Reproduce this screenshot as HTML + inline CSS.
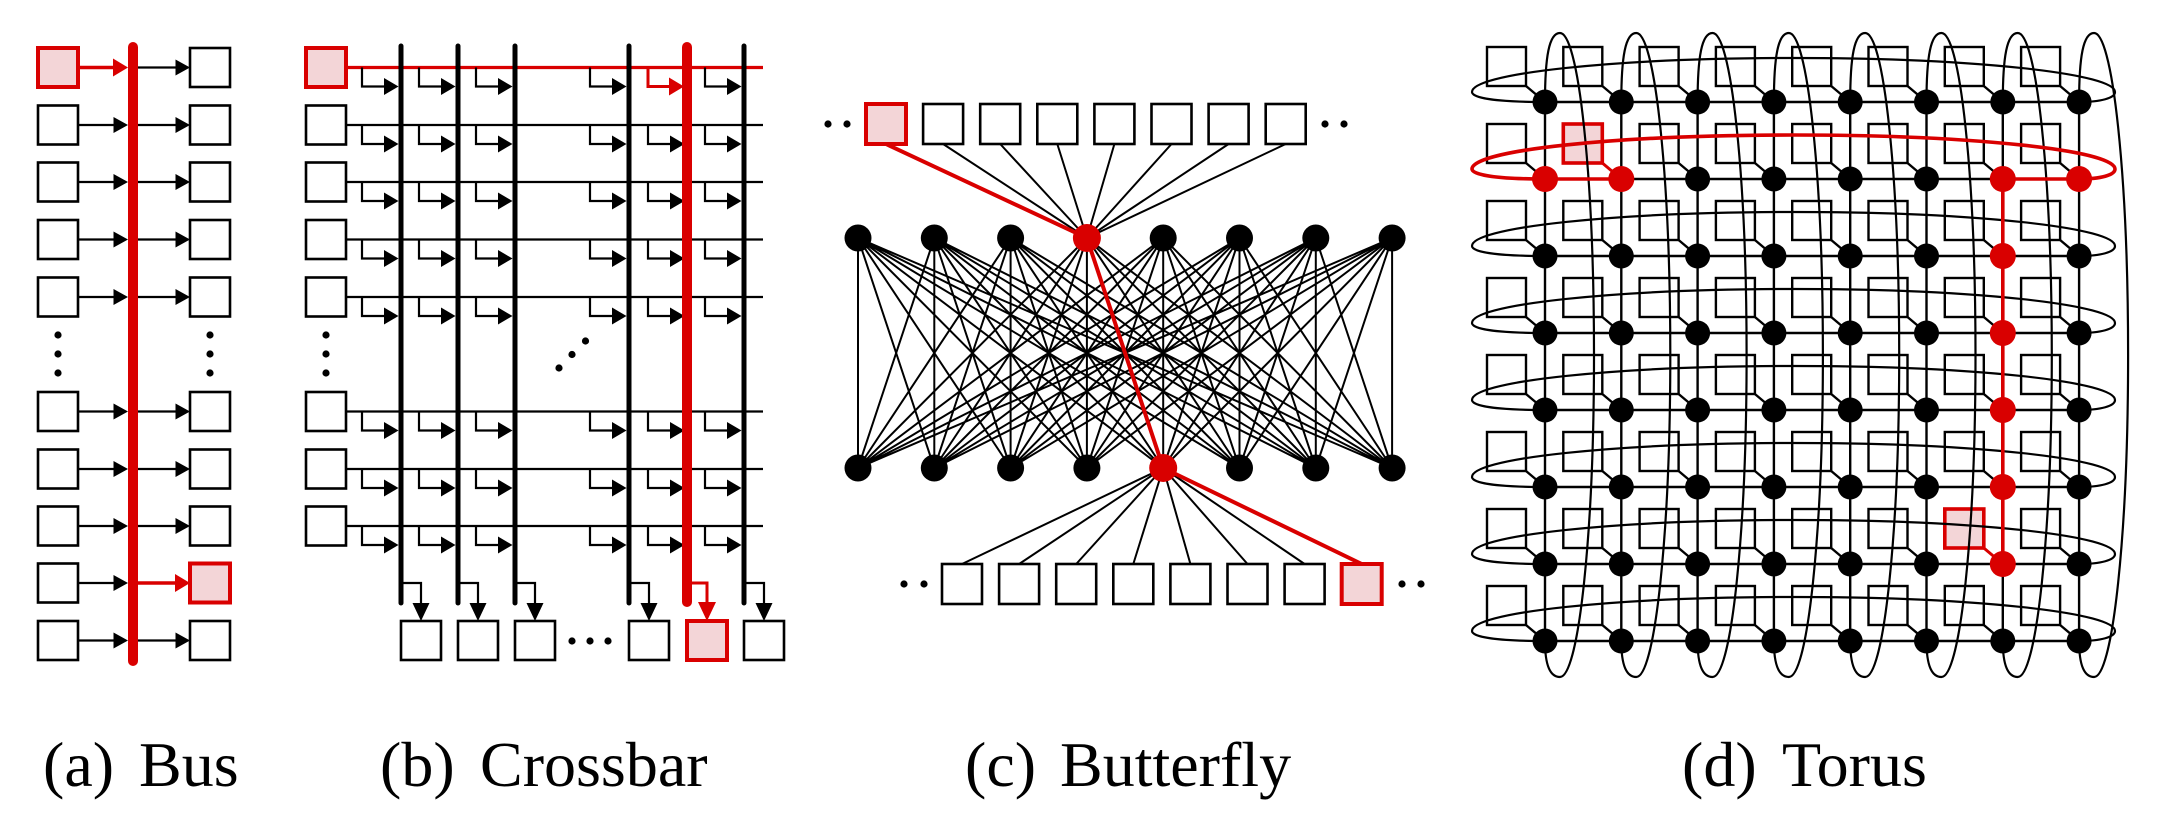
<!DOCTYPE html>
<html>
<head>
<meta charset="utf-8">
<style>
html,body{margin:0;padding:0;background:#fff;}
svg{display:block;}
text{font-family:"Liberation Serif","Times New Roman",serif;font-size:64px;fill:#000;}
</style>
</head>
<body>
<svg width="2162" height="836" viewBox="0 0 2162 836" xmlns="http://www.w3.org/2000/svg">
<defs>
  <!-- Bus row -->
  <g id="br">
    <rect x="38" y="-19.5" width="40" height="39" fill="#fff" stroke="#000" stroke-width="2.6"/>
    <line x1="78" y1="0" x2="115" y2="0" stroke="#000" stroke-width="2.2"/>
    <polygon points="113.5,-8 128,0 113.5,8" fill="#000"/>
    <line x1="138" y1="0" x2="177" y2="0" stroke="#000" stroke-width="2.2"/>
    <polygon points="175.5,-8 190,0 175.5,8" fill="#000"/>
    <rect x="190" y="-19.5" width="40" height="39" fill="#fff" stroke="#000" stroke-width="2.6"/>
  </g>
  <!-- Crossbar L-connectors (black, 5 cols) -->
  <g id="cl5">
    <path d="M362 0V19H385M419 0V19H442M476 0V19H499M590 0V19H613M705 0V19H728" fill="none" stroke="#000" stroke-width="2.2"/>
    <polygon points="384,10.5 398.5,19 384,27.5" fill="#000"/>
    <polygon points="441,10.5 455.5,19 441,27.5" fill="#000"/>
    <polygon points="498,10.5 512.5,19 498,27.5" fill="#000"/>
    <polygon points="612,10.5 626.5,19 612,27.5" fill="#000"/>
    <polygon points="727,10.5 741.5,19 727,27.5" fill="#000"/>
  </g>
  <g id="cl687">
    <path d="M648 0V19H671" fill="none" stroke="#000" stroke-width="2.2"/>
    <polygon points="670,10.5 684.5,19 670,27.5" fill="#000"/>
  </g>
  <g id="cr">
    <rect x="306" y="-19.5" width="40" height="39" fill="#fff" stroke="#000" stroke-width="2.6"/>
    <line x1="346" y1="0" x2="763" y2="0" stroke="#000" stroke-width="2.2"/>
    <use href="#cl5"/>
    <use href="#cl687"/>
  </g>
  <!-- Crossbar bottom connector -->
  <g id="cb">
    <path d="M0 583H20V604" fill="none" stroke="#000" stroke-width="2.2"/>
    <polygon points="11.5,603 20,621 28.5,603" fill="#000"/>
    <rect x="0" y="621" width="40" height="39" fill="#fff" stroke="#000" stroke-width="2.6"/>
  </g>
  <!-- Torus -->
  <g id="tbx">
    <rect x="-58" y="-55" width="39" height="39" fill="#fff" stroke="#000" stroke-width="2.4"/>
    <line x1="-19" y1="-16" x2="0" y2="0" stroke="#000" stroke-width="2.4"/>
  </g>
  <g id="tbrow">
    <use href="#tbx" transform="translate(1545,0)"/>
    <use href="#tbx" transform="translate(1621.3,0)"/>
    <use href="#tbx" transform="translate(1697.6,0)"/>
    <use href="#tbx" transform="translate(1773.9,0)"/>
    <use href="#tbx" transform="translate(1850.2,0)"/>
    <use href="#tbx" transform="translate(1926.5,0)"/>
    <use href="#tbx" transform="translate(2002.8,0)"/>
    <use href="#tbx" transform="translate(2079.1,0)"/>
  </g>
  <g id="tnrow" fill="#000">
    <circle cx="1545" cy="0" r="12.5"/>
    <circle cx="1621.3" cy="0" r="12.5"/>
    <circle cx="1697.6" cy="0" r="12.5"/>
    <circle cx="1773.9" cy="0" r="12.5"/>
    <circle cx="1850.2" cy="0" r="12.5"/>
    <circle cx="1926.5" cy="0" r="12.5"/>
    <circle cx="2002.8" cy="0" r="12.5"/>
    <circle cx="2079.1" cy="0" r="12.5"/>
  </g>
  <path id="rl" fill="none" d="M1545 102C1497 102 1472 98 1472 92A321.5 34 0 0 1 2115 92C2115 98 2101 102 2079.1 102"/>
  <path id="clp" fill="none" d="M1545 102C1545 57 1549 33 1560 33A34 322 0 0 1 1560 677C1549 677 1545 663 1545 641"/>
</defs>

<!-- ================= (a) Bus ================= -->
<use href="#br" transform="translate(0,125)"/>
<use href="#br" transform="translate(0,182)"/>
<use href="#br" transform="translate(0,239.5)"/>
<use href="#br" transform="translate(0,297)"/>
<use href="#br" transform="translate(0,411.5)"/>
<use href="#br" transform="translate(0,469)"/>
<use href="#br" transform="translate(0,526)"/>
<use href="#br" transform="translate(0,640.5)"/>
<!-- row 0 -->
<rect x="38" y="48" width="40" height="39" fill="#f3d5d7" stroke="#d90000" stroke-width="4"/>
<line x1="80" y1="67.5" x2="115" y2="67.5" stroke="#d90000" stroke-width="3.5"/>
<polygon points="113,58.5 128,67.5 113,76.5" fill="#d90000"/>
<line x1="138" y1="67.5" x2="177" y2="67.5" stroke="#000" stroke-width="2.2"/>
<polygon points="175.5,59.5 190,67.5 175.5,75.5" fill="#000"/>
<rect x="190" y="48" width="40" height="39" fill="#fff" stroke="#000" stroke-width="2.6"/>
<!-- row 9 -->
<rect x="38" y="563.5" width="40" height="39" fill="#fff" stroke="#000" stroke-width="2.6"/>
<line x1="78" y1="583" x2="115" y2="583" stroke="#000" stroke-width="2.2"/>
<polygon points="113.5,575 128,583 113.5,591" fill="#000"/>
<line x1="138" y1="583" x2="177" y2="583" stroke="#d90000" stroke-width="3.5"/>
<polygon points="175,574 190,583 175,592" fill="#d90000"/>
<rect x="190" y="563.5" width="40" height="39" fill="#f3d5d7" stroke="#d90000" stroke-width="4"/>
<!-- bus -->
<line x1="133" y1="47" x2="133" y2="661" stroke="#d90000" stroke-width="10" stroke-linecap="round"/>
<!-- dots -->
<g fill="#000">
  <circle cx="58" cy="335" r="3.6"/><circle cx="58" cy="354" r="3.6"/><circle cx="58" cy="373" r="3.6"/>
  <circle cx="210" cy="335" r="3.6"/><circle cx="210" cy="354" r="3.6"/><circle cx="210" cy="373" r="3.6"/>
</g>

<!-- ================= (b) Crossbar ================= -->
<use href="#cr" transform="translate(0,125)"/>
<use href="#cr" transform="translate(0,182)"/>
<use href="#cr" transform="translate(0,239.5)"/>
<use href="#cr" transform="translate(0,297)"/>
<use href="#cr" transform="translate(0,411.5)"/>
<use href="#cr" transform="translate(0,469)"/>
<use href="#cr" transform="translate(0,526)"/>
<!-- row 0 -->
<rect x="306" y="48" width="40" height="39" fill="#f3d5d7" stroke="#d90000" stroke-width="4"/>
<line x1="348" y1="67.5" x2="763" y2="67.5" stroke="#d90000" stroke-width="3.2"/>
<use href="#cl5" transform="translate(0,67.5)"/>
<path d="M648 67.5V86.5H671" fill="none" stroke="#d90000" stroke-width="3"/>
<polygon points="669,77.5 684,86.5 669,95.5" fill="#d90000"/>
<!-- bottom connectors and boxes -->
<use href="#cb" transform="translate(401,0)"/>
<use href="#cb" transform="translate(458,0)"/>
<use href="#cb" transform="translate(515,0)"/>
<use href="#cb" transform="translate(629,0)"/>
<use href="#cb" transform="translate(744,0)"/>
<path d="M687 583H707V604" fill="none" stroke="#d90000" stroke-width="3"/>
<polygon points="698,602 707,621 716,602" fill="#d90000"/>
<rect x="687" y="621" width="40" height="39" fill="#f3d5d7" stroke="#d90000" stroke-width="4"/>
<!-- columns -->
<g stroke="#000" stroke-width="5" stroke-linecap="round">
  <line x1="401" y1="46" x2="401" y2="603"/>
  <line x1="458" y1="46" x2="458" y2="603"/>
  <line x1="515" y1="46" x2="515" y2="603"/>
  <line x1="629" y1="46" x2="629" y2="603"/>
  <line x1="744" y1="46" x2="744" y2="603"/>
</g>
<line x1="687" y1="47" x2="687" y2="602" stroke="#d90000" stroke-width="10" stroke-linecap="round"/>
<!-- dots -->
<g fill="#000">
  <circle cx="326" cy="335" r="3.6"/><circle cx="326" cy="354" r="3.6"/><circle cx="326" cy="373" r="3.6"/>
  <circle cx="559" cy="368" r="3.6"/><circle cx="572" cy="354.5" r="3.6"/><circle cx="585.5" cy="341" r="3.6"/>
  <circle cx="572" cy="641" r="3.6"/><circle cx="590" cy="641" r="3.6"/><circle cx="608" cy="641" r="3.6"/>
</g>

<!-- ================= (c) Butterfly ================= -->
<path fill="none" stroke="#000" stroke-width="2" d="
M858 238L858 468M858 238L934.3 468M858 238L1010.6 468M858 238L1086.9 468M858 238L1163.2 468M858 238L1239.5 468M858 238L1315.8 468M858 238L1392.1 468
M934.3 238L858 468M934.3 238L934.3 468M934.3 238L1010.6 468M934.3 238L1086.9 468M934.3 238L1163.2 468M934.3 238L1239.5 468M934.3 238L1315.8 468M934.3 238L1392.1 468
M1010.6 238L858 468M1010.6 238L934.3 468M1010.6 238L1010.6 468M1010.6 238L1086.9 468M1010.6 238L1163.2 468M1010.6 238L1239.5 468M1010.6 238L1315.8 468M1010.6 238L1392.1 468
M1086.9 238L858 468M1086.9 238L934.3 468M1086.9 238L1010.6 468M1086.9 238L1086.9 468M1086.9 238L1239.5 468M1086.9 238L1315.8 468M1086.9 238L1392.1 468
M1163.2 238L858 468M1163.2 238L934.3 468M1163.2 238L1010.6 468M1163.2 238L1086.9 468M1163.2 238L1163.2 468M1163.2 238L1239.5 468M1163.2 238L1315.8 468M1163.2 238L1392.1 468
M1239.5 238L858 468M1239.5 238L934.3 468M1239.5 238L1010.6 468M1239.5 238L1086.9 468M1239.5 238L1163.2 468M1239.5 238L1239.5 468M1239.5 238L1315.8 468M1239.5 238L1392.1 468
M1315.8 238L858 468M1315.8 238L934.3 468M1315.8 238L1010.6 468M1315.8 238L1086.9 468M1315.8 238L1163.2 468M1315.8 238L1239.5 468M1315.8 238L1315.8 468M1315.8 238L1392.1 468
M1392.1 238L858 468M1392.1 238L934.3 468M1392.1 238L1010.6 468M1392.1 238L1086.9 468M1392.1 238L1163.2 468M1392.1 238L1239.5 468M1392.1 238L1315.8 468M1392.1 238L1392.1 468
M943.1 144L1086.9 238M1000.2 144L1086.9 238M1057.3 144L1086.9 238M1114.4 144L1086.9 238M1171.5 144L1086.9 238M1228.6 144L1086.9 238M1285.7 144L1086.9 238
M962 564L1163.2 468M1019.1 564L1163.2 468M1076.2 564L1163.2 468M1133.3 564L1163.2 468M1190.4 564L1163.2 468M1247.5 564L1163.2 468M1304.6 564L1163.2 468"/>
<path fill="none" stroke="#d90000" stroke-width="4" d="M886 144L1086.9 238L1163.2 468L1361.7 564"/>
<!-- boxes -->
<g fill="#fff" stroke="#000" stroke-width="2.6">
  <rect x="923.1" y="104" width="40" height="40"/>
  <rect x="980.2" y="104" width="40" height="40"/>
  <rect x="1037.3" y="104" width="40" height="40"/>
  <rect x="1094.4" y="104" width="40" height="40"/>
  <rect x="1151.5" y="104" width="40" height="40"/>
  <rect x="1208.6" y="104" width="40" height="40"/>
  <rect x="1265.7" y="104" width="40" height="40"/>
  <rect x="942" y="564" width="40" height="40"/>
  <rect x="999.1" y="564" width="40" height="40"/>
  <rect x="1056.2" y="564" width="40" height="40"/>
  <rect x="1113.3" y="564" width="40" height="40"/>
  <rect x="1170.4" y="564" width="40" height="40"/>
  <rect x="1227.5" y="564" width="40" height="40"/>
  <rect x="1284.6" y="564" width="40" height="40"/>
</g>
<rect x="866" y="104" width="40" height="40" fill="#f3d5d7" stroke="#d90000" stroke-width="4"/>
<rect x="1341.7" y="564" width="40" height="40" fill="#f3d5d7" stroke="#d90000" stroke-width="4"/>
<!-- nodes -->
<g fill="#000">
  <circle cx="858" cy="238" r="13.5"/><circle cx="934.3" cy="238" r="13.5"/><circle cx="1010.6" cy="238" r="13.5"/>
  <circle cx="1163.2" cy="238" r="13.5"/><circle cx="1239.5" cy="238" r="13.5"/><circle cx="1315.8" cy="238" r="13.5"/><circle cx="1392.1" cy="238" r="13.5"/>
  <circle cx="858" cy="468" r="13.5"/><circle cx="934.3" cy="468" r="13.5"/><circle cx="1010.6" cy="468" r="13.5"/><circle cx="1086.9" cy="468" r="13.5"/>
  <circle cx="1239.5" cy="468" r="13.5"/><circle cx="1315.8" cy="468" r="13.5"/><circle cx="1392.1" cy="468" r="13.5"/>
</g>
<circle cx="1086.9" cy="238" r="14" fill="#d90000"/>
<circle cx="1163.2" cy="468" r="14" fill="#d90000"/>
<!-- dots -->
<g fill="#000">
  <circle cx="828" cy="124" r="3.6"/><circle cx="847" cy="124" r="3.6"/>
  <circle cx="1325" cy="124" r="3.6"/><circle cx="1344" cy="124" r="3.6"/>
  <circle cx="904" cy="584" r="3.6"/><circle cx="924" cy="584" r="3.6"/>
  <circle cx="1402" cy="584" r="3.6"/><circle cx="1421" cy="584" r="3.6"/>
</g>

<!-- ================= (d) Torus ================= -->
<use href="#tbrow" transform="translate(0,102)"/>
<use href="#tbrow" transform="translate(0,179)"/>
<use href="#tbrow" transform="translate(0,256)"/>
<use href="#tbrow" transform="translate(0,333)"/>
<use href="#tbrow" transform="translate(0,410)"/>
<use href="#tbrow" transform="translate(0,487)"/>
<use href="#tbrow" transform="translate(0,564)"/>
<use href="#tbrow" transform="translate(0,641)"/>
<!-- red boxes -->
<g transform="translate(1621.3,179)">
  <rect x="-58" y="-55" width="39" height="39" fill="#f3d5d7" stroke="#d90000" stroke-width="3.6"/>
  <line x1="-19" y1="-16" x2="0" y2="0" stroke="#d90000" stroke-width="3"/>
</g>
<g transform="translate(2002.8,564)">
  <rect x="-58" y="-55" width="39" height="39" fill="#f3d5d7" stroke="#d90000" stroke-width="3.6"/>
  <line x1="-19" y1="-16" x2="0" y2="0" stroke="#d90000" stroke-width="3"/>
</g>
<!-- grid -->
<path fill="none" stroke="#000" stroke-width="2.4" d="
M1545 102H2079.1M1545 179H2079.1M1545 256H2079.1M1545 333H2079.1M1545 410H2079.1M1545 487H2079.1M1545 564H2079.1M1545 641H2079.1
M1545 102V641M1621.3 102V641M1697.6 102V641M1773.9 102V641M1850.2 102V641M1926.5 102V641M2002.8 102V641M2079.1 102V641"/>
<!-- row loops -->
<g stroke="#000" stroke-width="2.2">
  <use href="#rl" transform="translate(0,0)"/>
  <use href="#rl" transform="translate(0,154)"/>
  <use href="#rl" transform="translate(0,231)"/>
  <use href="#rl" transform="translate(0,308)"/>
  <use href="#rl" transform="translate(0,385)"/>
  <use href="#rl" transform="translate(0,462)"/>
  <use href="#rl" transform="translate(0,539)"/>
</g>
<!-- column loops -->
<g stroke="#000" stroke-width="2.2">
  <use href="#clp" transform="translate(0,0)"/>
  <use href="#clp" transform="translate(76.3,0)"/>
  <use href="#clp" transform="translate(152.6,0)"/>
  <use href="#clp" transform="translate(228.9,0)"/>
  <use href="#clp" transform="translate(305.2,0)"/>
  <use href="#clp" transform="translate(381.5,0)"/>
  <use href="#clp" transform="translate(457.8,0)"/>
  <use href="#clp" transform="translate(534.1,0)"/>
</g>
<!-- red path -->
<use href="#rl" transform="translate(0,77)" stroke="#d90000" stroke-width="3.6"/>
<path fill="none" stroke="#d90000" stroke-width="3.6" d="M1545 179H1621.3M2002.8 179H2079.1M2002.8 179V564"/>
<!-- nodes -->
<use href="#tnrow" transform="translate(0,102)"/>
<use href="#tnrow" transform="translate(0,179)"/>
<use href="#tnrow" transform="translate(0,256)"/>
<use href="#tnrow" transform="translate(0,333)"/>
<use href="#tnrow" transform="translate(0,410)"/>
<use href="#tnrow" transform="translate(0,487)"/>
<use href="#tnrow" transform="translate(0,564)"/>
<use href="#tnrow" transform="translate(0,641)"/>
<g fill="#d90000">
  <circle cx="1545" cy="179" r="13"/>
  <circle cx="1621.3" cy="179" r="13"/>
  <circle cx="2002.8" cy="179" r="13"/>
  <circle cx="2079.1" cy="179" r="13"/>
  <circle cx="2002.8" cy="256" r="13"/>
  <circle cx="2002.8" cy="333" r="13"/>
  <circle cx="2002.8" cy="410" r="13"/>
  <circle cx="2002.8" cy="487" r="13"/>
  <circle cx="2002.8" cy="564" r="13"/>
</g>

<!-- ================= Labels ================= -->
<text x="43" y="786">(a)</text><text x="139" y="786">Bus</text>
<text x="380" y="786">(b)</text><text x="480" y="786">Crossbar</text>
<text x="965" y="786">(c)</text><text x="1060" y="786">Butterfly</text>
<text x="1682" y="786">(d)</text><text x="1782" y="786">Torus</text>
</svg>
</body>
</html>
